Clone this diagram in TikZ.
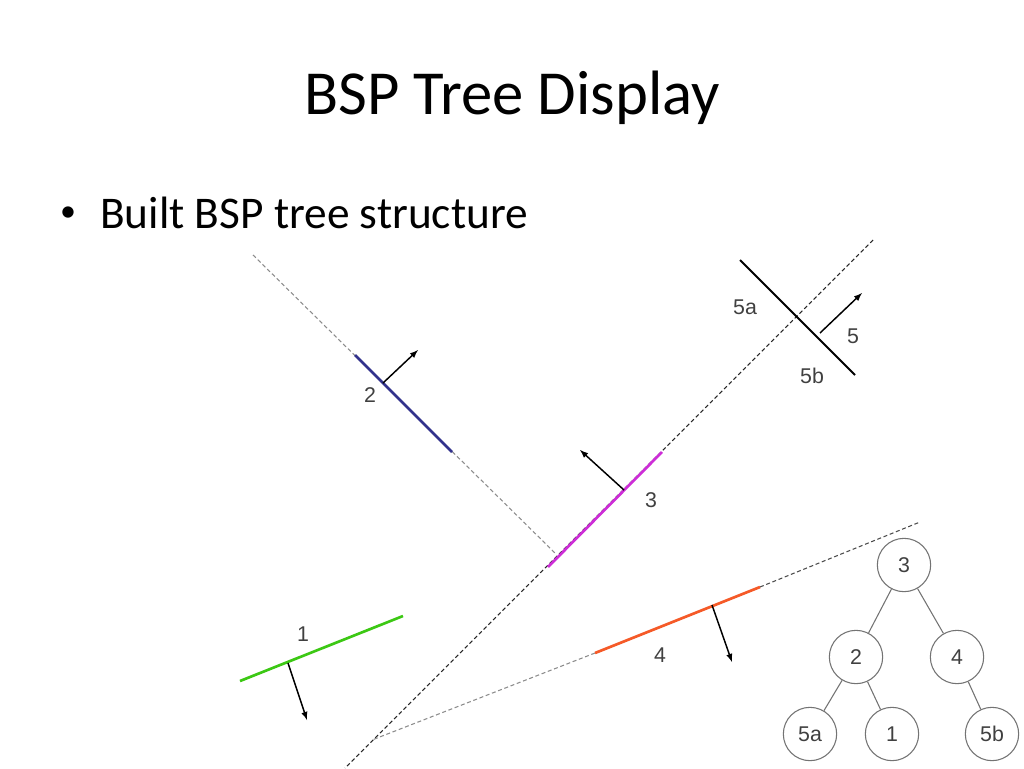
\documentclass[tikz,border=0pt]{standalone}
\usepackage{fontspec}
\setmainfont{Carlito}
\newfontfamily\lab{Liberation Sans}
\definecolor{mag}{RGB}{205,45,215}
\definecolor{org}{RGB}{245,90,40}
\definecolor{grn}{RGB}{60,200,20}
\definecolor{blu}{RGB}{50,50,140}
\begin{document}
\begin{tikzpicture}[x=0.75pt,y=-0.75pt,
  seg/.style={line width=2pt},
  ext/.style={line width=0.8pt,dash pattern=on 3pt off 2pt},
  nrm/.style={-latex,line width=1.1pt},
  lb/.style={font=\lab\fontsize{16}{18}\selectfont,text=black!75},
  tn/.style={circle,draw=black!55,line width=0.8pt,minimum size=40pt,inner sep=0pt,font=\lab\fontsize{16}{18}\selectfont,text=black!75}]
\useasboundingbox (0,0) rectangle (1024,768);
\node (title) at (512,98) {\fontsize{47}{54}\selectfont BSP Tree Display};
\node (dot) at (68,214) {\fontsize{24}{28}\selectfont\textbullet};
\node[anchor=west,inner sep=0pt] (bul) at (100,213) {\fontsize{34}{40}\selectfont Built BSP tree structure};
% plane 2
\coordinate (g1) at (253,255); \coordinate (g2) at (555,553);
\draw[ext,black!45] (g1) -- (g2);
\coordinate (b1) at (355,355); \coordinate (b2) at (452,452);
\draw[seg,blu] (b1) -- (b2);
\coordinate (n2a) at (383,383); \coordinate (n2b) at (418,350);
\draw[nrm] (n2a) -- (n2b);
\node[lb] (l2) at (370,395) {2};
% plane 3
\coordinate (k1) at (873,240); \coordinate (k2) at (345,768);
\draw[ext,black!85] (k1) -- (k2);
\coordinate (m1) at (548,567); \coordinate (m2) at (662,452);
\draw[seg,mag] (m1) -- (m2);
\coordinate (n3a) at (624,490); \coordinate (n3b) at (580,450);
\draw[nrm] (n3a) -- (n3b);
\node[lb] (l3) at (651,500) {3};
% plane 5
\coordinate (f1) at (740,260); \coordinate (f2) at (855,375);
\draw[line width=1.4pt] (f1) -- (f2);
\coordinate (n5a) at (820,333); \coordinate (n5b) at (862,293);
\draw[nrm] (n5a) -- (n5b);
\node[lb] (l5a) at (745,307) {5a};
\node[lb] (l5) at (853,336) {5};
\node[lb] (l5b) at (812,376) {5b};
% plane 4
\coordinate (o1) at (595,653); \coordinate (o2) at (760,587);
\coordinate (o3) at (920,522); \coordinate (o4) at (372,740);
\draw[ext,black!70] (o2) -- (o3);
\draw[ext,black!45] (o1) -- (o4);
\draw[seg,org] (o1) -- (o2);
\coordinate (n4a) at (712,605); \coordinate (n4b) at (732,662);
\draw[nrm] (n4a) -- (n4b);
\node[lb] (l4) at (660,655) {4};
% plane 1
\coordinate (e1) at (240,681); \coordinate (e2) at (403,616);
\draw[seg,grn] (e1) -- (e2);
\coordinate (n1a) at (288,663); \coordinate (n1b) at (307,720);
\draw[nrm] (n1a) -- (n1b);
\node[lb] (l1) at (303,634) {1};
% tree
\node[tn] (t3) at (904,565) {3};
\node[tn] (t2) at (856,657) {2};
\node[tn] (t4) at (957,657) {4};
\node[tn] (t5a) at (810,734) {5a};
\node[tn] (t1) at (892,734) {1};
\node[tn] (t5b) at (992,734) {5b};
\draw[black!55,line width=0.8pt] (t3)--(t2) (t3)--(t4) (t2)--(t5a) (t2)--(t1) (t4)--(t5b);
\end{tikzpicture}
\end{document}
